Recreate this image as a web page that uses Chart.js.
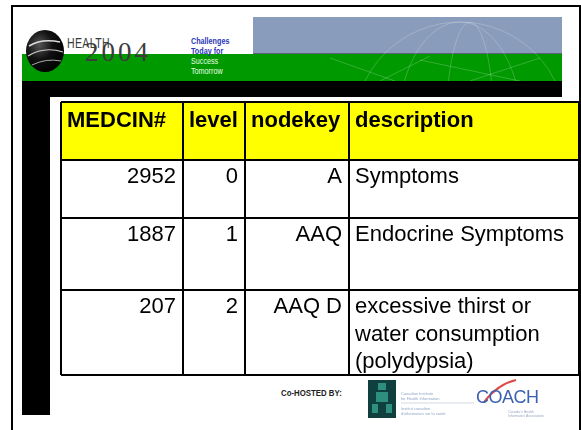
<!DOCTYPE html>
<html>
<head>
<meta charset="utf-8">
<script src="https://cdn.jsdelivr.net/npm/chart.js@4/dist/chart.umd.min.js"></script>
<style>
  html,body{margin:0;padding:0;background:#fff;}
  body{width:581px;height:430px;position:relative;overflow:hidden;font-family:"Liberation Sans",Arial,sans-serif;}
  .abs{position:absolute;}
  #frame{left:11px;top:5px;width:566px;height:500px;border:2px solid #000;}
  #blue{left:253px;top:17px;width:309px;height:36px;background:#8a9cbc;border-bottom:1px solid #5c6377;}
  #green{left:22px;top:54px;width:540px;height:27px;background:#009a00;}
  #blackband{left:22px;top:81px;width:540px;height:16px;background:#000;}
  #blackbar{left:22px;top:81px;width:28px;height:334px;background:#000;}
  #health{left:67px;top:35px;font-size:14px;color:#3a3a3a;letter-spacing:0.5px;transform:scaleX(0.75);transform-origin:left top;}
  #year{left:85px;top:37px;font-family:"Liberation Serif","DejaVu Serif",serif;font-size:27px;color:#3c3c3c;letter-spacing:3px;}
  .tag{font-size:9px;font-weight:bold;line-height:9.5px;transform:scaleX(0.8);transform-origin:left top;}
  #tag1{left:191px;top:37px;color:#2a36b8;}
  #tag2{left:191px;top:57px;color:#e6ffe6;font-weight:normal;}
  #cohost{left:281px;top:388px;font-size:9px;font-weight:bold;color:#222;transform:scaleX(0.87);transform-origin:left top;white-space:nowrap;}
  #cihitext{left:401px;top:391px;font-size:4px;line-height:5px;color:#8fa6c8;width:72px;}
  #coach{left:476px;top:387px;font-size:18px;color:#3d62b3;letter-spacing:-0.5px;}
  #coachsub{left:508px;top:410px;font-size:3.5px;line-height:4px;color:#9aa8c4;width:56px;}
  #tablewrap{left:56px;top:96px;width:525px;height:284px;}
</style>
</head>
<body>
<script>
// ---- table data ----
const columnHeaders = ['MEDCIN#', 'level', 'nodekey', 'description'];
const medcinIds = [2952, 1887, 207];
const levels = [0, 1, 2];
const nodeKeys = ['A', 'AAQ', 'AAQ D'];
const descriptions = ['Symptoms', 'Endocrine Symptoms', 'excessive thirst or water consumption (polydypsia)'];
</script>

<div id="frame" class="abs"></div>
<div id="blue" class="abs"></div>
<div id="green" class="abs"></div>
<div id="blackband" class="abs"></div>
<div id="blackbar" class="abs"></div>

<svg class="abs" style="left:0;top:0" width="581" height="100">
  <defs>
    <clipPath id="bclip"><rect x="253" y="17" width="309" height="64"/></clipPath>
    <radialGradient id="ball" cx="0.35" cy="0.35" r="0.7">
      <stop offset="0" stop-color="#555"/>
      <stop offset="0.5" stop-color="#111"/>
      <stop offset="1" stop-color="#000"/>
    </radialGradient>
  </defs>
  <g clip-path="url(#bclip)" fill="none" stroke="#ffffff" stroke-opacity="0.2" stroke-width="1">
    <circle cx="460" cy="128" r="106"/>
    <ellipse cx="460" cy="128" rx="62" ry="106"/>
    <ellipse cx="470" cy="128" rx="24" ry="106"/>
    <line x1="330" y1="58" x2="395" y2="81"/>
    <line x1="380" y1="81" x2="430" y2="56"/>
    <line x1="420" y1="60" x2="520" y2="81"/>
    <line x1="470" y1="81" x2="540" y2="58"/>
  </g>
  <ellipse cx="45" cy="51" rx="19" ry="21" fill="url(#ball)"/>
  <path d="M29 46 Q42 38 60 42" stroke="#ddd" stroke-width="1.5" fill="none"/>
  <path d="M28 56 Q44 46 63 52" stroke="#ccc" stroke-width="1.2" fill="none"/>
  <path d="M32 65 Q46 58 61 61" stroke="#aaa" stroke-width="1" fill="none"/>
</svg>
<div id="health" class="abs">HEALTH</div>
<div id="year" class="abs">2004</div>
<div id="tag1" class="abs tag">Challenges<br>Today for</div>
<div id="tag2" class="abs tag">Success<br>Tomorrow</div>

<div id="tablewrap" class="abs"><canvas id="c" width="525" height="284"></canvas></div>

<div id="cohost" class="abs">Co-HOSTED BY:</div>
<svg class="abs" style="left:366px;top:378px" width="200" height="45">
  <rect x="2" y="2" width="28" height="38" fill="#0f3f3f"/>
  <rect x="12" y="5" width="8" height="7" fill="#2f8f7f"/>
  <rect x="10" y="14" width="12" height="10" fill="#2f8f7f"/>
  <rect x="6" y="26" width="6" height="9" fill="#2f8f7f"/>
  <rect x="20" y="26" width="6" height="9" fill="#2f8f7f"/>
  <line x1="35" y1="25" x2="108" y2="25" stroke="#c8d2de" stroke-width="0.8"/>
  <path d="M118 24 Q132 6 150 2" stroke="#e04848" stroke-width="2" fill="none"/>
</svg>
<div id="cihitext" class="abs">Canadian Institute<br>for Health Information<br><br>Institut canadien<br>d'information sur la santé</div>
<div id="coach" class="abs">COACH</div>
<div id="coachsub" class="abs">Canada's Health<br>Informatics Association</div>

<script>
// ---- layout (table geometry in table units = px) ----
const colEdges = [0, 122, 184, 288, 518];
const rowEdges = [0, 58, 116, 188, 273];

const tablePlugin = {
  id: 'tableCells',
  beforeDraw(chart) {
    const { ctx, scales: { x, y } } = chart;
    ctx.save();
    ctx.fillStyle = '#ffff00';
    const x0 = x.getPixelForValue(colEdges[0]), x1 = x.getPixelForValue(colEdges[colEdges.length - 1]);
    const y0 = y.getPixelForValue(rowEdges[0]), y1 = y.getPixelForValue(rowEdges[1]);
    ctx.fillRect(x0, y0, x1 - x0, y1 - y0);
    ctx.restore();
  },
  afterDraw(chart) {
    const { ctx, scales: { x, y } } = chart;
    ctx.save();
    ctx.fillStyle = '#000';
    ctx.textBaseline = 'alphabetic';
    ctx.font = 'bold 22px "Liberation Sans", Arial, sans-serif';
    ctx.textAlign = 'left';
    columnHeaders.forEach((h, c) => {
      ctx.fillText(h, x.getPixelForValue(colEdges[c]) + 6, y.getPixelForValue(rowEdges[0]) + 25);
    });
    ctx.font = '22px "Liberation Sans", Arial, sans-serif';
    for (let r = 0; r < medcinIds.length; r++) {
      const top = y.getPixelForValue(rowEdges[r + 1]);
      const base = top + 23;
      const cells = [String(medcinIds[r]), String(levels[r]), nodeKeys[r]];
      ctx.textAlign = 'right';
      cells.forEach((t, c) => {
        ctx.fillText(t, x.getPixelForValue(colEdges[c + 1]) - 7, base);
      });
      ctx.textAlign = 'left';
      const left = x.getPixelForValue(colEdges[3]) + 6;
      const maxW = x.getPixelForValue(colEdges[4]) - left - 4;
      const words = descriptions[r].split(' ');
      const lines = [];
      let line = '';
      words.forEach(w => {
        const test = line ? line + ' ' + w : w;
        if (ctx.measureText(test).width > maxW && line) { lines.push(line); line = w; }
        else line = test;
      });
      if (line) lines.push(line);
      lines.forEach((l, i) => ctx.fillText(l, left, base + i * 27.5));
    }
    ctx.restore();
  }
};

const gridOpts = { color: '#000', lineWidth: 2, drawTicks: false };
new Chart(document.getElementById('c').getContext('2d'), {
  type: 'scatter',
  data: { datasets: [] },
  options: {
    responsive: false,
    animation: false,
    devicePixelRatio: 1,
    layout: { padding: { left: 5, right: 2, top: 6, bottom: 5 } },
    plugins: { legend: { display: false }, tooltip: { enabled: false } },
    scales: {
      x: {
        type: 'linear', min: colEdges[0], max: colEdges[colEdges.length - 1],
        afterBuildTicks: s => { s.ticks = colEdges.map(v => ({ value: v })); },
        ticks: { display: false, autoSkip: false },
        grid: gridOpts, border: { display: false }
      },
      y: {
        type: 'linear', reverse: true, min: rowEdges[0], max: rowEdges[rowEdges.length - 1],
        afterBuildTicks: s => { s.ticks = rowEdges.map(v => ({ value: v })); },
        ticks: { display: false, autoSkip: false },
        grid: gridOpts, border: { display: false }
      }
    }
  },
  plugins: [tablePlugin]
});
</script>
</body>
</html>
